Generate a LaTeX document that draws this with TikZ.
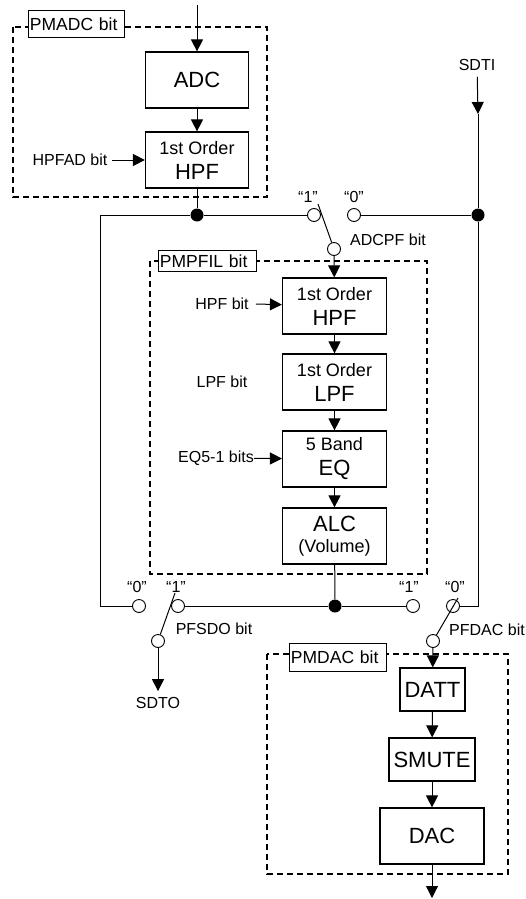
\documentclass[tikz,border=0pt]{standalone}
\usepackage{fontspec}
\setmainfont{Liberation Sans}
\usetikzlibrary{arrows.meta,positioning,calc}
\newcommand{\smline}[1]{{\fontsize{18}{25}\selectfont #1}}
\tikzset{
    blk/.style={rectangle, draw, line width=1.2pt, minimum width=104pt, minimum height=56pt, inner sep=1pt, align=center, font=\fontsize{22}{25}\selectfont},
    sw/.style={circle, draw, fill=white, line width=0.9pt, inner sep=0pt, minimum size=13pt},
    jdot/.style={circle, fill=black, inner sep=0pt, minimum size=13pt},
    lbl/.style={font=\fontsize{16}{18}\selectfont, inner sep=0pt},
    tagbox/.style={rectangle, draw, fill=white, line width=0.9pt, anchor=north west, align=left, inner sep=1.5pt, font=\fontsize{17.5}{19}\selectfont},
    pwr/.style={line width=1.5pt, dash pattern=on 6pt off 4pt},
    wire/.style={line width=1pt},
    sig/.style={wire, -{Triangle[length=12pt,width=12pt]}},
}

\begin{document}
\begin{tikzpicture}[x=1pt, y=-1pt]
    \useasboundingbox (0,0) rectangle (525,899);

    % power-down groups
    \draw[pwr] (13,27) rectangle (267,197);
    \draw[pwr] (150,261) rectangle (427,574);
    \draw[pwr] (267,654) rectangle (508,874);

    % ADC path
    \coordinate (ain) at (197,5);
    \node[blk, minimum width=103pt] (adc) at (197,80) {ADC};
    \node[blk, minimum width=103pt] (hpfa) at (197,160) {\smline{1st Order}\\HPF};
    \draw[sig] (ain) -- (adc);
    \draw[sig] (adc) -- (hpfa);
    \node[lbl] (hpfad) at (70,160) {HPFAD bit};
    \coordinate (hpfadend) at (112,160);
    \draw[sig] (hpfadend) -- (hpfa);

    % filter path
    \foreach \n/\y/\a/\b in {hpf/306/1st Order/HPF, lpf/382/1st Order/LPF, eq/459/5 Band/EQ} {
        \node[blk] (\n) at (334.5,\y) {\smline{\a}\\\b};
    }
    \node[blk] (alc) at (334.5,536) {ALC\\[-4pt]\smline{(Volume)}};
    \foreach \a/\b in {hpf/lpf, lpf/eq, eq/alc} {
        \draw[sig] (\a) -- (\b);
    }
    \node[lbl] (hpfbit) at (222,304) {HPF bit};
    \coordinate (hpfbitend) at (256,304);
    \draw[sig] (hpfbitend) -- (hpf);
    \node[lbl] (lpfbit) at (222,382) {LPF bit};
    \node[lbl, anchor=east] (eqbit) at (254,458) {EQ5-1 bits};
    \draw[sig] (eqbit) -- (eq);

    % DAC path
    \node[blk, minimum width=65pt, minimum height=43pt] (datt) at (432.5,689.5) {DATT};
    \node[blk, minimum width=86pt, minimum height=43pt] (smute) at (432,759.5) {SMUTE};
    \node[blk] (dac) at (432,836) {DAC};
    \coordinate (aout) at (432,898);
    \draw[sig] (datt) -- (smute);
    \draw[sig] (smute) -- (dac);
    \draw[sig] (dac) -- (aout);

    % tags
    \node[tagbox, text width=93pt, minimum height=27pt] (tadc) at (28,10) {PMADC bit};
    \node[tagbox, text width=95pt, minimum height=21pt] (tfil) at (158,250) {PMPFIL bit};
    \node[tagbox, text width=94pt, minimum height=28pt] (tdac) at (289,643) {PMDAC bit};

    % junctions
    \node[jdot] (j1) at (197,215) {};
    \node[jdot] (j2) at (478,215) {};
    \node[jdot] (j3) at (335,606) {};

    % ADCPF switch
    \node[sw] (s1a) at (314,215) {};
    \node[sw] (s1b) at (354,215) {};
    \node[sw] (s1c) at (334,249) {};
    \coordinate (lev1) at (318,204);
    \draw[wire] (s1c) -- (lev1);
    \node[lbl] (adcpf) at (388,240) {ADCPF bit};

    % PFSDO switch
    \node[sw] (s2a) at (139,606) {};
    \node[sw] (s2b) at (178,606) {};
    \node[sw] (s2c) at (158,641) {};
    \coordinate (lev2) at (175,593);
    \draw[wire] (s2c) -- (lev2);
    \node[lbl] (pfsdo) at (214,629) {PFSDO bit};

    % PFDAC switch
    \node[sw] (s3a) at (413,606) {};
    \node[sw] (s3b) at (453,606) {};
    \node[sw] (s3c) at (433,641) {};
    \coordinate (lev3) at (458,598);
    \draw[wire] (s3c) -- (lev3);
    \node[lbl] (pfdac) at (487,630) {PFDAC bit};

    % switch positions
    \foreach \x/\y/\t in {308/197/1, 354/197/0, 137/587/0, 176/587/1, 409/587/1, 455/587/0} {
        \node[lbl] at (\x,\y) {“\t”};
    }

    % serial in / out
    \node[lbl] (sdti) at (477,65) {SDTI};
    \coordinate (sdtiarr) at (478,114);
    \draw[sig, shorten <=6pt] (sdti) -- (sdtiarr);
    \node[lbl] (sdto) at (158,703) {SDTO};
    \draw[sig, shorten >=6pt] (s2c) -- (sdto);

    % wiring
    \draw[wire] (hpfa) -- (j1);
    \draw[wire] (j1) -- (s1a);
    \draw[wire] (j1) -| (100,606) -- (s2a);
    \draw[wire] (s1b) -- (j2);
    \draw[wire] (sdtiarr) -- (j2) -- (478,606) -- (s3b);
    \draw[sig] (s1c) -- (hpf);
    \draw[wire] (alc) -- (j3);
    \draw[wire] (s2b) -- (j3) -- (s3a);
    \draw[sig] (s3c) -- (datt);
\end{tikzpicture}
\end{document}
